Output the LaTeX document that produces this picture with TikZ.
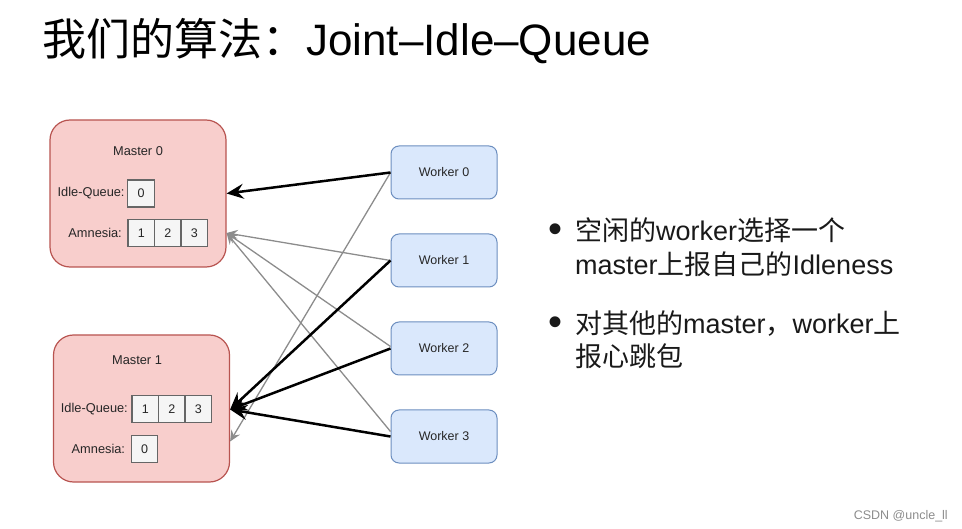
\documentclass[tikz,border=0pt]{standalone}
\usepackage{fontspec}
\setmainfont{Liberation Sans}
\newfontfamily\cjk{Noto Sans CJK SC}
\usepackage{tikz}
\usepackage{xcolor}
\usetikzlibrary{positioning,arrows.meta}
\definecolor{masterfill}{HTML}{F8CECC}
\definecolor{masterline}{HTML}{B85450}
\definecolor{workerfill}{HTML}{DAE8FC}
\definecolor{workerline}{HTML}{6C8EBF}
\definecolor{cellfill}{HTML}{F5F5F5}
\definecolor{cellline}{HTML}{666666}
\definecolor{beatline}{HTML}{8C8C8C}

\begin{document}
\begin{tikzpicture}
[
x=1pt, y=-1pt,
master-box/.style={rectangle, rounded corners=20pt, draw=masterline, fill=masterfill, line width=1.2pt, minimum width=176pt, minimum height=147pt},
worker-box/.style={rectangle, rounded corners=8pt, draw=workerline, fill=workerfill, line width=1pt, minimum width=106pt, minimum height=53pt, text=black!85, font=\fontsize{12.5}{15}\selectfont},
cell-a/.style={rectangle, draw=cellline, fill=cellfill, line width=1.2pt, minimum width=26.5pt, minimum height=27pt, inner sep=0pt, outer sep=0pt, text=black!85, font=\fontsize{12.5}{15}\selectfont},
text-a/.style={black!85, inner sep=0pt, font=\fontsize{12.8}{15}\selectfont},
text-b/.style={black!90, inner sep=0pt, anchor=base west, font=\fontsize{27}{32}\selectfont},
dot-a/.style={black!90, inner sep=0pt, anchor=base, font=\fontsize{40}{40}\selectfont},
idle-msg/.style={-{Stealth[length=17pt, width=15pt, inset=6pt]}, line width=2.5pt, black},
beat-msg/.style={-{Stealth[length=11pt, width=10pt, inset=4pt]}, line width=1.3pt, beatline}
]
\useasboundingbox (0,0) rectangle (962,529);

% title
\node (title) [anchor=base west, inner sep=0pt, font=\fontsize{44}{50}\selectfont] at (42,56) {{\cjk 我们的算法：}Joint--Idle--Queue};

% masters
\node (m0)         [master-box] at (138,193.5) {};
\node (m0-name)    [text-a]     at (138,151)   {Master 0};
\node (iq0-0)      [cell-a]     at (141,193.5) {0};
\node (iq0-lab)    [text-a, left  = 3pt of iq0-0] {Idle-Queue:};
\node (am0-1)      [cell-a]     at (141.25,233) {1};
\node (am0-2)      [cell-a, right = 0pt of am0-1] {2};
\node (am0-3)      [cell-a, right = 0pt of am0-2] {3};
\node (am0-lab)    [text-a, left  = 6pt of am0-1] {Amnesia:};

\node (m1)         [master-box] at (141.5,408.5) {};
\node (m1-name)    [text-a]     at (137,360)   {Master 1};
\node (iq1-1)      [cell-a]     at (145.25,409) {1};
\node (iq1-2)      [cell-a, right = 0pt of iq1-1] {2};
\node (iq1-3)      [cell-a, right = 0pt of iq1-2] {3};
\node (iq1-lab)    [text-a, left  = 4pt of iq1-1] {Idle-Queue:};
\node (am1-0)      [cell-a]     at (144.5,449) {0};
\node (am1-lab)    [text-a, left  = 6pt of am1-0] {Amnesia:};

% workers
\node (w0)         [worker-box] at (444,172.5) {Worker 0};
\node (w1)         [worker-box, below = 34pt of w0] {Worker 1};
\node (w2)         [worker-box, below = 34pt of w1] {Worker 2};
\node (w3)         [worker-box, below = 34pt of w2] {Worker 3};

\coordinate (m0-idle) at (m0.east |- iq0-0);
\coordinate (m0-amn)  at (m0.east |- am0-1);
\coordinate (m1-idle) at ([yshift=-1pt]m1.east);
\coordinate (m1-amn)  at ([yshift=-33pt]m1.east);

% heartbeats
\draw [beat-msg] (w0.west) -- (m1-amn);
\draw [beat-msg] (w1.west) -- (m0-amn);
\draw [beat-msg] ([yshift=2pt]w2.west) -- (m0-amn);
\draw [beat-msg] ([yshift=5pt]w3.west) -- (m0-amn);

% idleness reports
\draw [idle-msg] (w0.west) -- (m0-idle);
\draw [idle-msg] (w1.west) -- (m1-idle);
\draw [idle-msg] (w2.west) -- (m1-idle);
\draw [idle-msg] (w3.west) -- (m1-idle);

% notes
\node (dot-1)      [dot-a]  at (555,243) {•};
\node (note-1a)    [text-b] at (575,241) {{\cjk 空闲的}worker{\cjk 选择一个}};
\node (note-1b)    [text-b] at (575,275) {master{\cjk 上报自己的}Idleness};
\node (dot-2)      [dot-a]  at (555,336) {•};
\node (note-2a)    [text-b] at (575,334) {{\cjk 对其他的}master{\cjk ，}worker{\cjk 上}};
\node (note-2b)    [text-b] at (575,367) {{\cjk 报心跳包}};

\node (mark)       [anchor=base east, inner sep=0pt, black!45, font=\fontsize{12.5}{15}\selectfont] at (948,519) {CSDN @uncle\_ll};
\end{tikzpicture}
\end{document}
